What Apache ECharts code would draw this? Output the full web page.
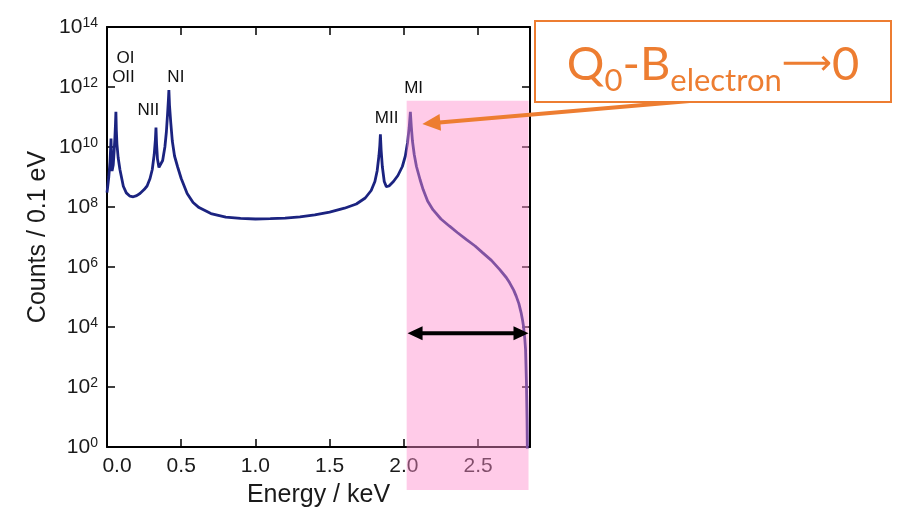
<!DOCTYPE html>
<html>
<head>
<meta charset="utf-8">
<script src="https://cdn.jsdelivr.net/npm/echarts@6/dist/echarts.min.js"></script>
<style>
  html, body { margin: 0; padding: 0; background: #ffffff; }
  #chart { width: 897px; height: 513px; }
</style>
</head>
<body>
<div id="chart"></div>
<script>
// Electron-capture spectrum: energy (keV) and counts per 0.1 eV, counts kept as decades (log10)
const energyKeV = [
  0.000, 0.012, 0.020, 0.024, 0.027, 0.030, 0.034, 0.037, 0.042, 0.048,
  0.053, 0.057, 0.060, 0.063, 0.067, 0.075, 0.087, 0.110, 0.130, 0.155,
  0.177, 0.200, 0.222, 0.250, 0.270, 0.290, 0.305, 0.318, 0.326, 0.330,
  0.334, 0.340, 0.350, 0.360, 0.375, 0.390, 0.400, 0.408, 0.414, 0.417,
  0.421, 0.429, 0.440, 0.455, 0.475, 0.500, 0.540, 0.580, 0.620, 0.700,
  0.800, 0.900, 1.000, 1.100, 1.200, 1.300, 1.400, 1.500, 1.600, 1.680,
  1.740, 1.780, 1.805, 1.820, 1.832, 1.838, 1.842, 1.847, 1.855, 1.868,
  1.882, 1.900, 1.930, 1.960, 1.990, 2.010, 2.025, 2.036, 2.044, 2.050,
  2.058, 2.070, 2.085, 2.110, 2.130, 2.160, 2.196, 2.250, 2.308, 2.360,
  2.420, 2.480, 2.532, 2.590, 2.645, 2.690, 2.712, 2.740, 2.757, 2.775,
  2.790, 2.800, 2.806, 2.815, 2.820, 2.826, 2.830, 2.833
];
const log10Counts = [
  8.48, 9.00, 9.50, 9.90, 10.28, 9.70, 9.20, 9.15, 9.40, 9.85,
  10.30, 10.75, 11.17, 10.55, 10.10, 9.65, 9.25, 8.69, 8.47, 8.36,
  8.34, 8.38, 8.45, 8.58, 8.70, 8.95, 9.25, 9.75, 10.25, 10.65,
  10.10, 9.60, 9.32, 9.33, 9.55, 10.00, 10.50, 11.10, 11.60, 11.90,
  11.40, 10.85, 10.20, 9.70, 9.35, 8.95, 8.45, 8.15, 7.98, 7.78,
  7.66, 7.62, 7.60, 7.61, 7.63, 7.67, 7.74, 7.83, 7.96, 8.10,
  8.30, 8.55, 8.85, 9.20, 9.70, 10.05, 10.42, 9.90, 9.35, 8.85,
  8.68, 8.70, 8.85, 9.05, 9.35, 9.70, 10.15, 10.65, 11.17, 10.70,
  10.20, 9.75, 9.35, 8.90, 8.58, 8.20, 7.91, 7.60, 7.36, 7.15,
  6.92, 6.70, 6.47, 6.22, 5.92, 5.65, 5.48, 5.23, 5.03, 4.78,
  4.48, 4.22, 4.03, 3.60, 3.26, 2.15, 0.90, -0.50
];

// Axis ticks
const xTickValues = [0.0, 0.5, 1.0, 1.5, 2.0, 2.5];
const yTickExponents = [0, 2, 4, 6, 8, 10, 12, 14];

// Line names and where their labels sit (keV, decade)
const lineNames = ['OI', 'OII', 'NII', 'NI', 'MII', 'MI'];
const lineLabelEnergy = [0.124, 0.111, 0.279, 0.464, 1.884, 2.066];
const lineLabelDecade = [12.94, 12.32, 11.21, 12.32, 10.96, 11.94];

const FONT = '"Liberation Sans", Arial, Helvetica, sans-serif';
const LABEL_COLOR = '#1a1a1a';

const chart = echarts.init(document.getElementById('chart'), null, { renderer: 'canvas' });

const points = energyKeV.map((e, i) => [e, Math.pow(10, log10Counts[i])]);

const xBase = {
  type: 'value', min: 0, max: 2.85, interval: 0.5,
  splitLine: { show: false },
  axisLine: { onZero: false, lineStyle: { color: '#000', width: 2 } },
  axisTick: { inside: true, length: 8, lineStyle: { color: '#000', width: 1.5 } }
};
const yBase = {
  type: 'log', logBase: 10, min: 1, max: 1e14, interval: 2,
  splitLine: { show: false },
  minorTick: { show: false },
  axisLine: { onZero: false, lineStyle: { color: '#000', width: 2 } },
  axisTick: { inside: true, length: 8, lineStyle: { color: '#000', width: 1.5 } }
};

chart.setOption({
  animation: false,
  backgroundColor: '#ffffff',
  grid: { left: 107, right: 367, top: 27, bottom: 65, containLabel: false },
  xAxis: [
    Object.assign({}, xBase, {
      position: 'bottom',
      name: 'Energy / keV', nameLocation: 'middle', nameGap: 36,
      nameTextStyle: { fontFamily: FONT, fontSize: 25, color: LABEL_COLOR },
      axisLabel: {
        margin: 9, fontFamily: FONT, fontSize: 21, color: LABEL_COLOR,
        showMaxLabel: false,
        formatter: v => {
          const i = xTickValues.findIndex(t => Math.abs(t - v) < 1e-6);
          if (i < 0) return '';
          const s = xTickValues[i].toFixed(1);
          return i === 0 ? '{first|' + s + '}' : s;
        },
        rich: { first: { fontFamily: FONT, fontSize: 21, color: LABEL_COLOR, padding: [0, 0, 0, 20] } }
      }
    }),
    Object.assign({}, xBase, { position: 'top', axisLabel: { show: false } })
  ],
  yAxis: [
    Object.assign({}, yBase, {
      position: 'left',
      name: 'Counts / 0.1 eV', nameLocation: 'middle', nameGap: 56, nameRotate: 90,
      nameTextStyle: { fontFamily: FONT, fontSize: 25, color: LABEL_COLOR },
      axisLabel: {
        margin: 9,
        formatter: v => {
          const p = Math.round(Math.log10(v));
          return yTickExponents.includes(p) ? '{b|10}{s|' + p + '}' : '';
        },
        rich: {
          b: { fontFamily: FONT, fontSize: 21, color: LABEL_COLOR, lineHeight: 22 },
          s: { fontFamily: FONT, fontSize: 14, color: LABEL_COLOR, lineHeight: 10, verticalAlign: 'top' }
        }
      }
    }),
    Object.assign({}, yBase, { position: 'right', axisLabel: { show: false } })
  ],
  series: [{
    type: 'line',
    xAxisIndex: 0, yAxisIndex: 0,
    data: points,
    symbol: 'none', showSymbol: false,
    clip: true,
    lineStyle: { color: '#1b2380', width: 2.8 }
  }]
});

// Annotations placed from data coordinates
const toPx = (e, dec) => chart.convertToPixel({ seriesIndex: 0 }, [e, Math.pow(10, dec)]);
const graphics = [];

lineNames.forEach((n, i) => {
  const p = toPx(lineLabelEnergy[i], lineLabelDecade[i]);
  graphics.push({
    type: 'text', z: 50, x: p[0], y: p[1],
    style: { text: n, fontFamily: FONT, fontSize: 17, fill: '#111', align: 'center', verticalAlign: 'middle' }
  });
});

// Pink band over the endpoint region
const bandL = toPx(2.019, 11.54);
const bandR = toPx(2.840, 0);
graphics.push({
  type: 'rect', z: 100,
  shape: { x: bandL[0], y: bandL[1], width: bandR[0] - bandL[0], height: bandR[1] + 43 - bandL[1] },
  style: { fill: 'rgba(255,140,205,0.45)' }
});

// Double arrow across the band
const arrL = toPx(2.025, 3.79);
const arrR = toPx(2.840, 3.79);
const headLen = 15, headHalf = 7;
graphics.push({
  type: 'line', z: 110,
  shape: { x1: arrL[0] + headLen - 1, y1: arrL[1], x2: arrR[0] - headLen + 1, y2: arrR[1] },
  style: { stroke: '#000', lineWidth: 4 }
});
graphics.push({
  type: 'polygon', z: 110,
  shape: { points: [[arrL[0], arrL[1]], [arrL[0] + headLen, arrL[1] - headHalf], [arrL[0] + headLen, arrL[1] + headHalf]] },
  style: { fill: '#000' }
});
graphics.push({
  type: 'polygon', z: 110,
  shape: { points: [[arrR[0], arrR[1]], [arrR[0] - headLen, arrR[1] - headHalf], [arrR[0] - headLen, arrR[1] + headHalf]] },
  style: { fill: '#000' }
});

// Orange call-out box and its pointer to the MI peak
const ORANGE = '#ED7D31';
const box = { x: 535, y: 21, w: 356, h: 81 };
graphics.push({
  type: 'rect', z: 120,
  shape: { x: box.x, y: box.y, width: box.w, height: box.h },
  style: { fill: '#ffffff', stroke: ORANGE, lineWidth: 2 }
});
graphics.push({
  type: 'text', z: 121, x: box.x + box.w / 2, y: box.y + box.h / 2 + 3,
  style: {
    text: '{m|Q}{s|0}{m|-B}{s|electron}{a|\u27F6}{m|0}',
    align: 'center', verticalAlign: 'middle',
    rich: {
      m: { fontFamily: 'Lato, "Open Sans", sans-serif', fontSize: 47, fill: ORANGE, lineHeight: 60 },
      a: { fontFamily: '"DejaVu Sans", sans-serif', fontSize: 35, fill: ORANGE, lineHeight: 64 },
      s: { fontFamily: 'Lato, "Open Sans", sans-serif', fontSize: 31, fill: ORANGE, lineHeight: 30, verticalAlign: 'bottom' }
    }
  }
});
const peak = toPx(2.044, 11.17);
const tip = [peak[0] + 12, peak[1] + 12];
const tail = [713, box.y + box.h - 3];
const dx = tip[0] - tail[0], dy = tip[1] - tail[1];
const len = Math.hypot(dx, dy);
const ux = dx / len, uy = dy / len;
const oLen = 18, oHalf = 8.5;
const base = [tip[0] - ux * oLen, tip[1] - uy * oLen];
graphics.push({
  type: 'line', z: 115,
  shape: { x1: tail[0], y1: tail[1], x2: base[0] + ux * 1, y2: base[1] + uy * 1 },
  style: { stroke: ORANGE, lineWidth: 4 }
});
graphics.push({
  type: 'polygon', z: 115,
  shape: { points: [tip, [base[0] - uy * oHalf, base[1] + ux * oHalf], [base[0] + uy * oHalf, base[1] - ux * oHalf]] },
  style: { fill: ORANGE }
});

chart.setOption({ graphic: graphics });
</script>
</body>
</html>
